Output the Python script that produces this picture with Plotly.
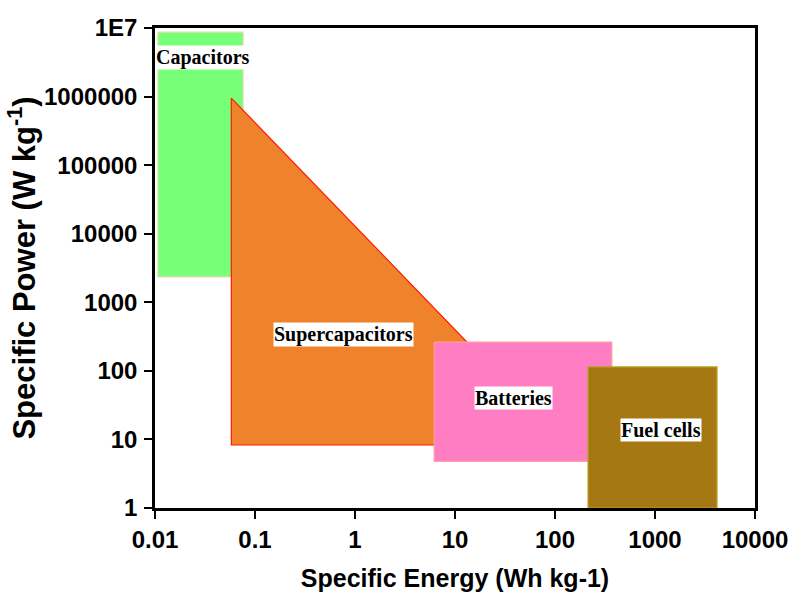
import numpy as np
import plotly.graph_objects as go

# Regions (Specific energy Wh/kg, Specific power W/kg)
cap_x = [0.0107, 0.076, 0.076, 0.0107]
cap_y = [8.7e6, 8.7e6, 2340, 2340]
sc_x = [0.058, 0.058, 130]
sc_y = [9.5e5, 8.3, 8.3]
bat_x = [6.2, 370, 370, 6.2]
bat_y = [263, 263, 4.8, 4.8]
fc_x = [214, 4170, 4170, 214]
fc_y = [114, 114, 1.0, 1.0]

labels = ["Capacitors", "Supercapacitors", "Batteries", "Fuel cells"]
label_x = [0.0302, 0.76, 38.9, 1148]
label_y = [3.75e6, 344, 40, 13.7]

xticks = [0.01, 0.1, 1, 10, 100, 1000, 10000]
xtick_text = ["0.01", "0.1", "1", "10", "100", "1000", "10000"]
yticks = [1, 10, 100, 1000, 10000, 100000, 1000000, 1e7]
ytick_text = ["1", "10", "100", "1000", "10000", "100000", "1000000", "1E7"]

fig = go.Figure()

def region(xs, ys, fill, line):
    fig.add_trace(go.Scatter(
        x=xs + [xs[0]], y=ys + [ys[0]], mode="lines", fill="toself",
        fillcolor=fill, line=dict(color=line, width=1.2),
        hoverinfo="skip", showlegend=False))

region(cap_x, cap_y, "#77FF77", "#E6D8B0")
region(sc_x, sc_y, "#EF832B", "#FF1A00")
region(bat_x, bat_y, "#FF7DC3", "#FF9E9E")
region(fc_x, fc_y, "#A57814", "#B5A41E")

for t, lx, ly in zip(labels, label_x, label_y):
    fig.add_annotation(x=np.log10(lx), y=np.log10(ly), text="<b>%s</b>" % t,
                       showarrow=False, bgcolor="white", borderpad=0,
                       font=dict(family="Liberation Serif", size=20, color="black"))

axis_common = dict(
    type="log", showline=True, linewidth=2.5, linecolor="black", mirror=True,
    ticks="outside", ticklen=8, tickwidth=2, tickcolor="black",
    showgrid=False, zeroline=False, automargin=False,
    tickfont=dict(family="Liberation Sans", size=24, color="black"),
)

fig.update_xaxes(**axis_common, range=[-2, 4], tickvals=xticks,
                 ticktext=["<b>%s</b>" % t for t in xtick_text],
                 title=dict(text="<b>Specific Energy (Wh kg-1)</b>",
                            font=dict(family="Liberation Sans", size=25, color="black"),
                            standoff=18))
fig.update_yaxes(**axis_common, range=[0, 7], tickvals=yticks,
                 ticktext=["<b>%s</b>" % t for t in ytick_text],
                 ticklabelstandoff=2,
                 title=dict(text="<b>Specific Power (W kg<sup>-1</sup>)</b>",
                            font=dict(family="Liberation Sans", size=31, color="black"),
                            standoff=0))

fig.update_layout(
    width=794, height=593,
    margin=dict(l=155, r=39, t=28, b=85),
    plot_bgcolor="white", paper_bgcolor="white",
    showlegend=False,
)

fig.write_html("out.html")
